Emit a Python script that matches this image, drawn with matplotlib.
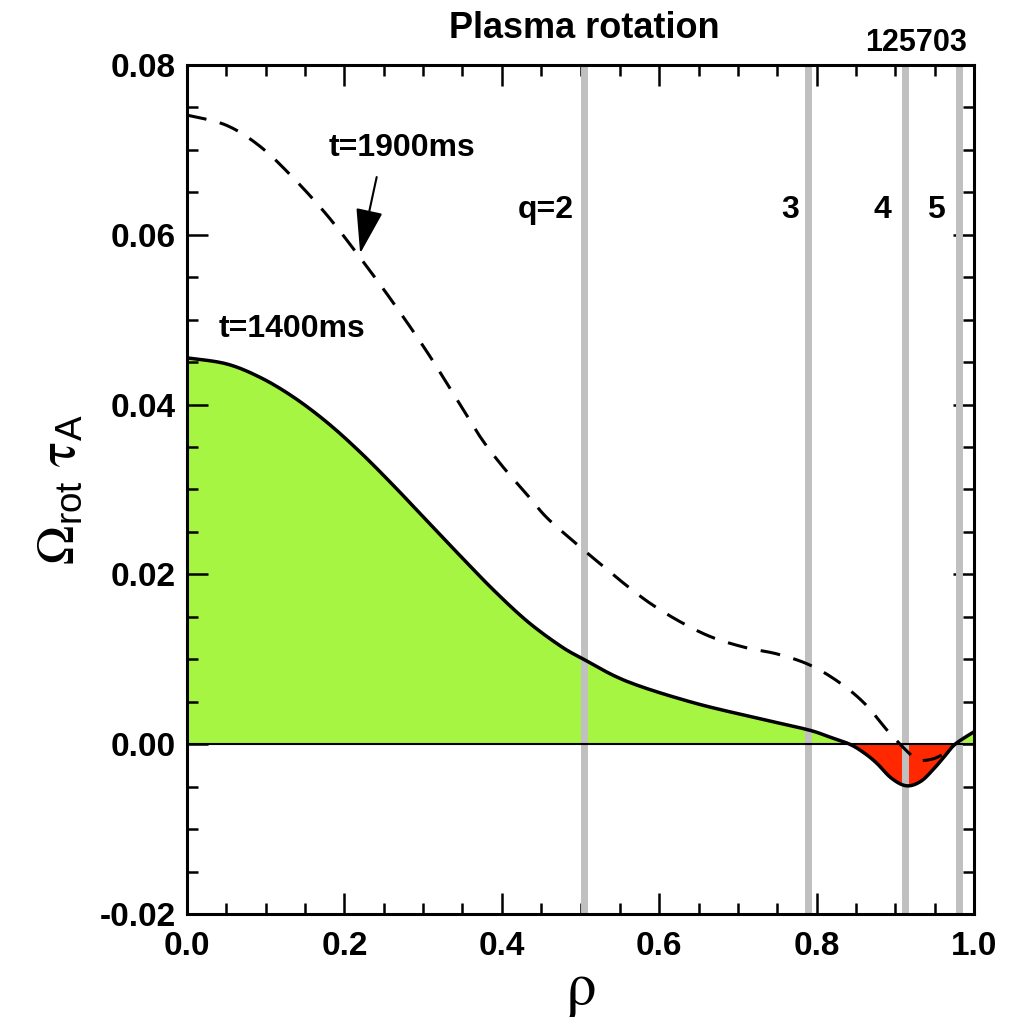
import matplotlib
matplotlib.use('Agg')
import matplotlib.pyplot as plt
import numpy as np
from matplotlib.ticker import MultipleLocator, FormatStrFormatter

plt.rcParams['font.family'] = ['Liberation Sans', 'DejaVu Sans']
plt.rcParams['mathtext.fontset'] = 'stix'

# t=1400ms profile (solid, filled)
rho_1400 = [0.0, 0.05, 0.093, 0.135, 0.178, 0.22, 0.262, 0.305, 0.347, 0.389, 0.432, 0.474,
            0.504, 0.559, 0.643, 0.728, 0.789, 0.815, 0.842, 0.86, 0.876, 0.895, 0.914,
            0.932, 0.948, 0.962, 0.976, 0.999]
om_1400 = [0.0455, 0.0448, 0.0432, 0.0409, 0.0379, 0.0344, 0.0305, 0.0263, 0.0222, 0.0182,
           0.0145, 0.0116, 0.0100, 0.0074, 0.0049, 0.0030, 0.0017, 0.0009, 0.0,
           -0.0010, -0.0022, -0.0040, -0.0049, -0.0044, -0.0030, -0.0015, 0.0, 0.0014]

# t=1900ms profile (dashed)
rho_1900 = [0.0, 0.05, 0.093, 0.135, 0.178, 0.22, 0.262, 0.305, 0.347, 0.374, 0.402, 0.432,
            0.457, 0.491, 0.523, 0.557, 0.59, 0.629, 0.667, 0.709, 0.751, 0.792, 0.83,
            0.862, 0.891, 0.919, 0.93, 0.949, 0.966]
om_1900 = [0.0741, 0.0729, 0.0704, 0.0667, 0.0623, 0.0573, 0.0520, 0.0462, 0.0400, 0.0360,
           0.0326, 0.0294, 0.0267, 0.0239, 0.0214, 0.0188, 0.0165, 0.0143, 0.0126, 0.0114,
           0.0106, 0.0093, 0.0072, 0.0047, 0.0015, -0.0012, -0.0019, -0.0017, -0.0009]

# rational surfaces
q_rho = [0.504, 0.789, 0.912, 0.981]
q_labels = ['q=2', '3', '4', '5']
q_label_x = [0.456, 0.766, 0.883, 0.952]


def smooth(xs, ys, n=12):
    # Catmull-Rom rendering of the read-off points
    p = np.column_stack([xs, ys])
    p = np.vstack([p[0], p, p[-1]])
    out = []
    t = np.linspace(0, 1, n, endpoint=False)[:, None]
    for i in range(1, len(p) - 2):
        p0, p1, p2, p3 = p[i - 1], p[i], p[i + 1], p[i + 2]
        out.append(0.5 * ((2 * p1) + (-p0 + p2) * t + (2 * p0 - 5 * p1 + 4 * p2 - p3) * t ** 2
                          + (-p0 + 3 * p1 - 3 * p2 + p3) * t ** 3))
    out.append(p[-2][None, :])
    out = np.vstack(out)
    return out[:, 0], out[:, 1]


fig = plt.figure(figsize=(10.17, 10.25), dpi=100)
ax = fig.add_axes([0.1839, 0.1083, 0.7738, 0.8283])

xs, ys = smooth(rho_1400, om_1400)
xf = np.linspace(0, 1, 1000)
yf = np.interp(xf, xs, ys)
ax.fill_between(xf, yf, 0, where=yf >= 0, color='#a6f542', interpolate=True, lw=0)
ax.fill_between(xf, yf, 0, where=yf <= 0, color='#ff2800', interpolate=True, lw=0)

for xq in q_rho:
    ax.axvline(xq, color='#c0c0c0', lw=5, zorder=2)

ax.axhline(0, color='black', lw=1.5, zorder=3)
ax.plot(xs, ys, color='black', lw=2.5, zorder=4)
xd, yd = smooth(rho_1900, om_1900)
ax.plot(xd, yd, color='black', lw=2.2, ls=(0, (6.5, 4.5)), zorder=4)

for lab, xl in zip(q_labels, q_label_x):
    ax.text(xl, 0.0629, lab, fontsize=23, fontweight='bold', ha='center', va='center')

ax.annotate('', xy=(0.220, 0.0578), xytext=(0.241, 0.0668),
            arrowprops=dict(arrowstyle='-|>,head_width=0.85,head_length=2.8', color='black',
                            lw=1.5, shrinkA=0, shrinkB=0, mutation_scale=10))
ax.text(0.273, 0.0702, 't=1900ms', fontsize=23, fontweight='bold', ha='center', va='center')
ax.text(0.133, 0.0489, 't=1400ms', fontsize=23, fontweight='bold', ha='center', va='center')

ax.set_xlim(0, 1)
ax.set_ylim(-0.02, 0.08)
ax.xaxis.set_major_locator(MultipleLocator(0.2))
ax.xaxis.set_minor_locator(MultipleLocator(0.05))
ax.yaxis.set_major_locator(MultipleLocator(0.02))
ax.yaxis.set_minor_locator(MultipleLocator(0.005))
ax.xaxis.set_major_formatter(FormatStrFormatter('%.1f'))
ax.yaxis.set_major_formatter(FormatStrFormatter('%.2f'))
ax.tick_params(which='both', direction='in', top=True, right=True, width=1.8, labelsize=24)
ax.tick_params(which='major', length=15)
ax.tick_params(which='minor', length=8)
ax.tick_params(axis='x', pad=12)
ax.tick_params(axis='y', pad=8)
plt.setp(ax.get_xticklabels() + ax.get_yticklabels(), fontweight='bold')
for s in ax.spines.values():
    s.set_linewidth(2.2)

ax.set_xlabel(r'$\mathrm{ρ}$', fontsize=44, labelpad=0)
ax.set_ylabel(r'$\Omega_{\mathregular{rot}}\ \mathrm{τ}_{\mathregular{A}}$', fontsize=38,
              labelpad=10)
fig.text(0.575, 0.972, 'Plasma rotation', fontsize=26, fontweight='bold', ha='center', va='center')
fig.text(0.901, 0.958, '125703', fontsize=22, fontweight='bold', ha='center', va='center')

fig.savefig('out.png', dpi=100)
